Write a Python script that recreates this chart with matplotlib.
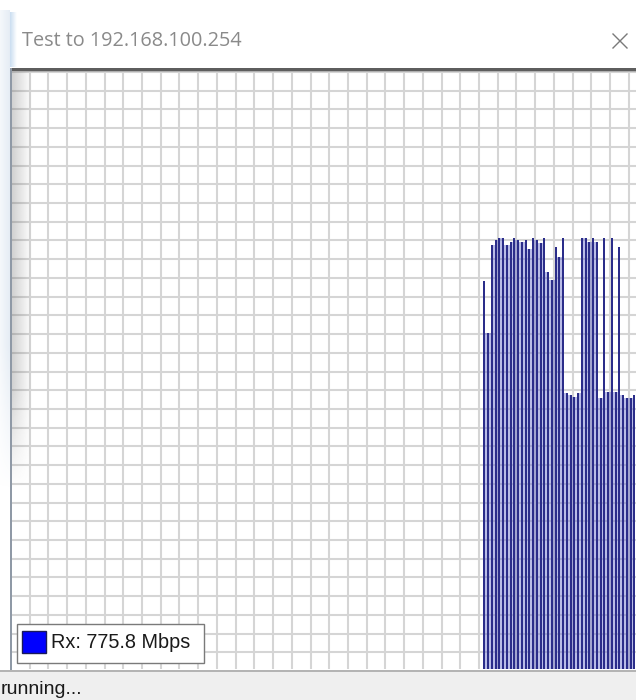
import numpy as np
import matplotlib
matplotlib.use("Agg")
import matplotlib.pyplot as plt
from matplotlib.patches import Rectangle
from matplotlib.lines import Line2D

# ---------------- data ----------------
title_text = "Test to 192.168.100.254"
status_text = "running..."
series_name = "Rx"
current_rate = 775.8
rate_unit = "Mbps"
first_sample = 126          # index of first non-empty sample in the window
rx_mbps = [843, 730, 922, 933, 938, 938, 922, 929, 938, 933,
           929, 933, 913, 938, 933, 926, 938, 864, 846, 917,
           896, 938, 601, 596, 592, 601, 938, 938, 929, 938,
           929, 589, 938, 603, 938, 603, 917, 596, 589, 589, 596]
y_max = 1300                # full height of the graph, Mbps

# ---------------- layout (pixels) ----------------
W, H = 636, 700
fig = plt.figure(figsize=(W / 100, H / 100), dpi=100)
fig.patch.set_facecolor("white")

AX_L, AX_R, AX_T, AX_B = 11, 636, 71, 669
PX_PER_SAMPLE = 3.75
GRID_PX = 18.72

ax = fig.add_axes([AX_L / W, 1 - AX_B / H, (AX_R - AX_L) / W, (AX_B - AX_T) / H])
ax.set_facecolor("white")
x0 = first_sample - (484.3 - AX_L) / PX_PER_SAMPLE
x1 = x0 + (AX_R - AX_L) / PX_PER_SAMPLE
ax.set_xlim(x0, x1)
ax.set_ylim(0, y_max)
for s in ax.spines.values():
    s.set_visible(False)
ax.set_xticks([])
ax.set_yticks([])

grid_col = "#d5d5d5"
samples_per_cell = GRID_PX / PX_PER_SAMPLE
k = 1
while x0 + k * samples_per_cell < x1:
    ax.axvline(x0 + k * samples_per_cell, color=grid_col, lw=1.5, zorder=1)
    k += 1
k = 0
while AX_T + 1 + GRID_PX * k < AX_B:
    py = AX_T + 1 + GRID_PX * k
    ax.axhline((AX_B - py) / (AX_B - AX_T) * y_max, color=grid_col, lw=1.5, zorder=1)
    k += 1

v = np.array(rx_mbps, dtype=float)
xs = first_sample + np.arange(len(v))
gap_h = np.minimum(v[:-1], v[1:])
ax.bar(xs[:-1] + 0.5, gap_h, width=1.0, color="#5a60c8", alpha=0.42, lw=0, zorder=2)
ax.bar(xs, v, width=0.52, color="#2b2d8a", lw=0, zorder=3)

# ---------------- window chrome overlay ----------------
ov = fig.add_axes([0, 0, 1, 1], zorder=5)
ov.patch.set_alpha(0)
ov.axis("off")

# soft shading over the first grid column, fading out downward
rows = np.linspace(0, 1, 128)
row_fade = np.clip((1.0 - rows) / 0.25, 0, 1)
col_fade = np.linspace(0.3, 0.0, 64)
grad = np.zeros((128, 64, 4))
grad[..., :3] = 0.4
grad[..., 3] = row_fade[:, None] * col_fade[None, :]
ov.imshow(grad, extent=[11.5, 31, 490, 71], origin="upper", aspect="auto",
          interpolation="bilinear", zorder=1)
# faint bluish window edge on the far left
edge = np.zeros((128, 16, 4))
edge[..., 0] = 0.75
edge[..., 1] = 0.82
edge[..., 2] = 0.90
edge[..., 3] = (np.clip((1.0 - rows) / 0.3, 0, 1) * 0.4)[:, None] * np.linspace(0.4, 1.0, 16)[None, :]
ov.imshow(edge, extent=[0, 10, 490, 10], origin="upper", aspect="auto",
          interpolation="bilinear", zorder=1)
edge2 = np.zeros((2, 32, 4))
edge2[..., 0] = 0.62
edge2[..., 1] = 0.76
edge2[..., 2] = 0.90
edge2[..., 3] = np.linspace(0.55, 0.0, 32)[None, :]
ov.imshow(edge2, extent=[10, 17, 67, 12], origin="upper", aspect="auto",
          interpolation="bilinear", zorder=1)

# top border of the graph
ov.add_patch(Rectangle((10, 67.5), 626, 3, color="#5e5e5e", lw=0, zorder=3))
ov.add_patch(Rectangle((10, 70.5), 626, 1, color="#b0b0b0", lw=0, zorder=3))
# left border
ov.add_patch(Rectangle((10, 67.5), 1.5, 602, color="#8f99a6", lw=0, zorder=3))

# status bar
ov.add_patch(Rectangle((0, 670), W, 30, color="#efefef", lw=0, zorder=3))
ov.add_patch(Rectangle((0, 669.5), W, 2.5, color="#b4b4b4", lw=0, zorder=3))
ov.text(1, 694, status_text, fontsize=14, family="Liberation Sans",
        color="#1a1a1a", va="baseline", ha="left", zorder=4)

# title
ov.text(22, 40.5, title_text, fontsize=14.3, family="Open Sans",
        color="#8a8a8a", va="center", ha="left", zorder=4)
ov.add_line(Line2D([613, 627], [34, 48], color="#7a7a7a", lw=1.0, zorder=4))
ov.add_line(Line2D([613, 627], [48, 34], color="#7a7a7a", lw=1.0, zorder=4))

# legend
ov.add_patch(Rectangle((16.5, 623.5), 187, 39, facecolor="white",
                       edgecolor="#7a7a7a", lw=1.0, zorder=4))
ov.add_patch(Rectangle((21.5, 630.5), 24, 22, facecolor="#0000ff",
                       edgecolor="#1a1a5a", lw=1.0, zorder=5))
ov.text(51, 643, f"{series_name}: {current_rate} {rate_unit}", fontsize=14.3,
        family="Liberation Sans", color="#1a1a1a", va="center", ha="left", zorder=5)

ov.set_xlim(0, W)
ov.set_ylim(H, 0)

fig.savefig("out.png", dpi=100, facecolor=fig.get_facecolor())
